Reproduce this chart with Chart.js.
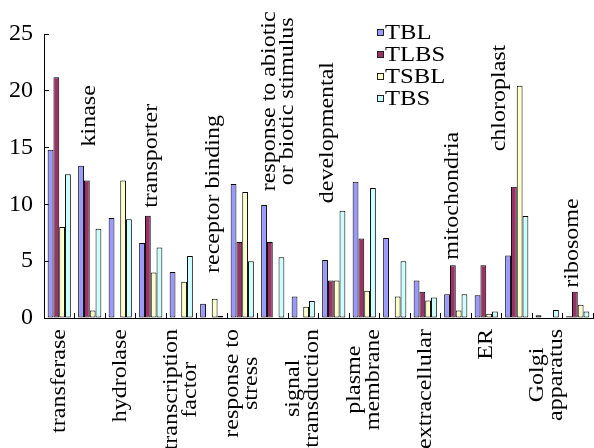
<!DOCTYPE html>
<html>
<head>
<meta charset="utf-8">
<script src="https://cdn.jsdelivr.net/npm/chart.js@4.4.1/dist/chart.umd.min.js"></script>
<style>
  html, body { margin: 0; padding: 0; background: #fff; }
  #wrap { width: 594px; height: 448px; }
</style>
</head>
<body>
<div id="wrap"><canvas id="chart" width="594" height="448"></canvas></div>
<script>
// categories along the x axis (arrays = label broken over lines, '' = no label)
const categories = [
  'transferase', 'kinase', 'hydrolase', 'transporter',
  ['transcription', 'factor'], 'receptor binding', ['response to', 'stress'],
  ['response to abiotic', 'or biotic stimulus'], ['signal', 'transduction'],
  'developmental', ['plasme', 'membrane'], '', 'extracellular',
  'mitochondria', 'ER', 'chloroplast', ['Golgi', 'apparatus'], 'ribosome'
];

const seriesNames = ['TBL', 'TLBS', 'TSBL', 'TBS'];

const tbl  = [14.8, 13.4, 8.8, 6.6, 4.05, 1.25, 11.8, 9.95, 1.9, 5.1, 12.0, 7.05, 3.3, 2.1, 2.0, 5.5, 0.25, 0.15];
const tlbs = [21.2, 12.1, 0, 9.0, 0, 0, 6.7, 6.7, 0, 3.3, 7.0, 0, 2.3, 4.65, 4.65, 11.55, 0, 2.3];
const tsbl = [8.0, 0.67, 12.1, 4.0, 3.2, 1.7, 11.1, 0, 1.0, 3.3, 2.4, 1.9, 1.55, 0.67, 0.38, 20.45, 0, 1.17];
const tbs  = [12.65, 7.85, 8.7, 6.2, 5.45, 0.2, 5.0, 5.35, 1.5, 9.45, 11.45, 5.0, 1.8, 2.1, 0.58, 8.97, 0.7, 0.58];

const yTicks = [0, 5, 10, 15, 20, 25];

// labels written up inside the plot: category index -> [value where text starts, sideways nudge px]
const noteSpots = {
  1: [15.1, 0], 3: [9.7, 1], 5: [3.96, 2], 7: [11.15, 6],
  9: [10.1, -6], 13: [5.13, -3], 15: [14.67, -17], 17: [2.67, -5]
};

const colors = ['#9999FF', '#993366', '#FFFFCC', '#CCFFFF'];
const serif = '"Liberation Serif", "Times New Roman", serif';

// text turned to read bottom-to-top, lines centred on each other
function drawTurned(ctx, text, cx, y, fromTop) {
  const lines = Array.isArray(text) ? text : [text];
  ctx.save();
  ctx.font = '24px ' + serif;
  const w = Math.max(...lines.map(l => ctx.measureText(l).width));
  const cy = fromTop ? y + w / 2 : y - w / 2;
  ctx.translate(cx, cy);
  ctx.rotate(-Math.PI / 2);
  ctx.scale(1, 0.85);
  ctx.textAlign = 'center';
  ctx.textBaseline = 'middle';
  ctx.fillStyle = '#000';
  lines.forEach((l, j) => ctx.fillText(l, 0, (j - (lines.length - 1) / 2) * 22));
  ctx.restore();
}

const categoryText = {
  id: 'categoryText',
  afterDraw(chart) {
    const { ctx, scales: { x, y } } = chart;
    categories.forEach((c, i) => {
      if (!c) return;
      const cx = x.getPixelForValue(i);
      const spot = noteSpots[i];
      if (spot) drawTurned(ctx, c, cx + spot[1], y.getPixelForValue(spot[0]), false);
      else drawTurned(ctx, c, cx, y.bottom + 11, true);
    });
  }
};

// legend sits inside the plot, top right
const boxLegend = {
  id: 'boxLegend',
  afterDraw(chart) {
    const ctx = chart.ctx;
    chart.data.datasets.forEach((ds, i) => {
      const cy = 32 + i * 22;
      ctx.save();
      ctx.fillStyle = ds.backgroundColor;
      ctx.fillRect(377, cy - 3, 7, 7);
      ctx.strokeStyle = '#222';
      ctx.lineWidth = 1;
      ctx.strokeRect(377.5, cy - 2.5, 6, 6);
      ctx.translate(385, cy + 7);
      ctx.scale(1.12, 1);
      ctx.font = '22px ' + serif;
      ctx.fillStyle = '#000';
      ctx.textBaseline = 'alphabetic';
      ctx.fillText(ds.label, 0, 0);
      ctx.restore();
    });
  }
};

const series = [tbl, tlbs, tsbl, tbs];

new Chart(document.getElementById('chart'), {
  type: 'bar',
  data: {
    labels: categories,
    datasets: series.map((d, i) => ({
      label: seriesNames[i],
      data: d,
      backgroundColor: colors[i],
      borderColor: '#000',
      borderWidth: 1,
      borderSkipped: false,
      categoryPercentage: 0.76,
      barPercentage: 1
    }))
  },
  options: {
    responsive: false,
    animation: false,
    layout: { padding: { top: 34, right: 1, left: 0, bottom: 0 } },
    plugins: {
      legend: { display: false },
      tooltip: { enabled: false }
    },
    scales: {
      x: {
        ticks: { display: false },
        grid: { drawOnChartArea: false, tickLength: -5, color: '#000' },
        border: { color: '#000', width: 1 },
        afterFit(scale) { scale.height = 130; }
      },
      y: {
        min: 0,
        max: 25,
        afterBuildTicks(scale) { scale.ticks = yTicks.map(v => ({ value: v })); },
        ticks: {
          padding: 16,
          color: '#000',
          font: { family: serif, size: 24 }
        },
        grid: { drawOnChartArea: false, tickLength: -5, color: '#000' },
        border: { color: '#000', width: 1 },
        afterFit(scale) { scale.width = 44; }
      }
    }
  },
  plugins: [categoryText, boxLegend]
});
</script>
</body>
</html>
